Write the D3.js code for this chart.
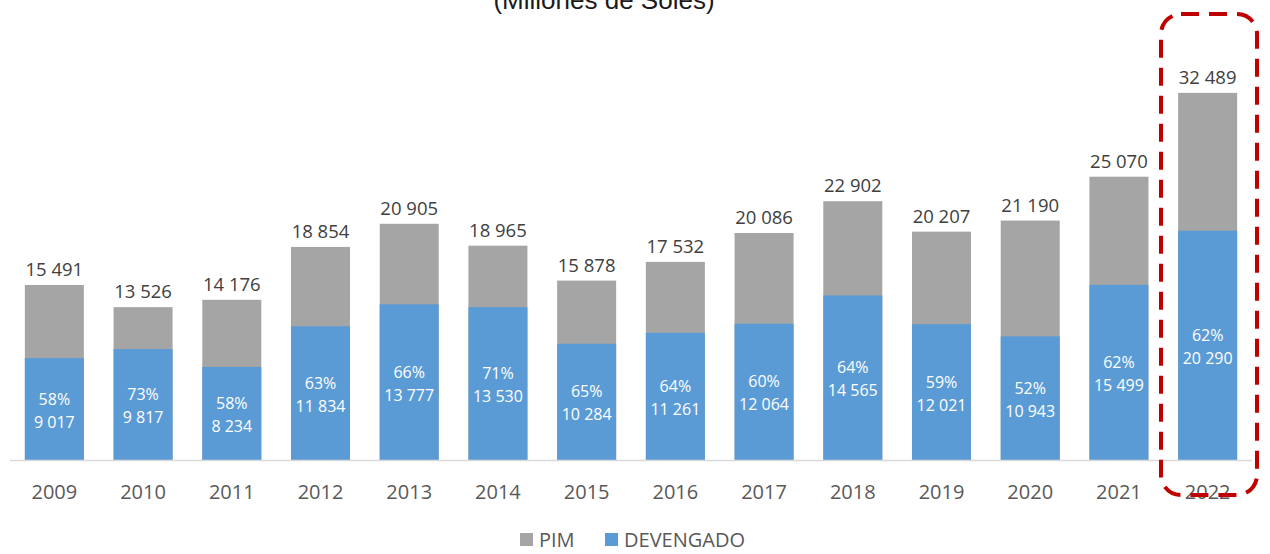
<!DOCTYPE html>
<html>
<head>
<meta charset="utf-8">
<script src="https://cdn.jsdelivr.net/npm/d3@7"></script>
<style>
  body { margin: 0; background: #fff; }
  svg { display: block; font-family: "Open Sans", "Noto Sans", sans-serif; }
</style>
</head>
<body>
<svg width="1270" height="554"></svg>
<script>
// Data (millones de soles)
const data = [
  { year: "2009", pim: 15491, dev: 9017 },
  { year: "2010", pim: 13526, dev: 9817 },
  { year: "2011", pim: 14176, dev: 8234 },
  { year: "2012", pim: 18854, dev: 11834 },
  { year: "2013", pim: 20905, dev: 13777 },
  { year: "2014", pim: 18965, dev: 13530 },
  { year: "2015", pim: 15878, dev: 10284 },
  { year: "2016", pim: 17532, dev: 11261 },
  { year: "2017", pim: 20086, dev: 12064 },
  { year: "2018", pim: 22902, dev: 14565 },
  { year: "2019", pim: 20207, dev: 12021 },
  { year: "2020", pim: 21190, dev: 10943 },
  { year: "2021", pim: 25070, dev: 15499 },
  { year: "2022", pim: 32489, dev: 20290 }
];

const svg = d3.select("svg");
const fmt = d3.formatLocale({ decimal: ",", thousands: " ", grouping: [3], currency: ["", ""] }).format(",d");

// scales
const x = d3.scaleBand()
  .domain(data.map((d) => d.year))
  .range([10, 1252])
  .paddingInner(0.335)
  .paddingOuter(0.1675);

const y = d3.scaleLinear().domain([0, 40000]).range([460, 8]);

// title (cut at top, as in the source)
svg.append("text")
  .attr("x", 604)
  .attr("y", 9)
  .attr("text-anchor", "middle")
  .style("font-family", "'Liberation Sans', Arial, sans-serif")
  .style("font-size", "26px")
  .attr("fill", "#1a1a1a")
  .text("(Millones de Soles)");

// PIM bars
svg.append("g")
  .selectAll("rect")
  .data(data)
  .enter()
  .append("rect")
  .attr("x", (d) => x(d.year))
  .attr("width", x.bandwidth())
  .attr("y", (d) => y(d.pim))
  .attr("height", (d) => y(0) - y(d.pim))
  .attr("fill", "#a5a5a5");

// DEVENGADO bars
svg.append("g")
  .selectAll("rect")
  .data(data)
  .enter()
  .append("rect")
  .attr("x", (d) => x(d.year))
  .attr("width", x.bandwidth())
  .attr("y", (d) => y(d.dev))
  .attr("height", (d) => y(0) - y(d.dev))
  .attr("fill", "#5b9bd5");

// axis line
svg.append("line")
  .attr("x1", x.range()[0])
  .attr("x2", x.range()[1])
  .attr("y1", y(0) + 0.5)
  .attr("y2", y(0) + 0.5)
  .attr("stroke", "#d9d9d9")
  .attr("stroke-width", 1.5);

// PIM labels
svg.append("g")
  .selectAll("text")
  .data(data)
  .enter()
  .append("text")
  .attr("x", (d) => x(d.year) + x.bandwidth() / 2)
  .attr("y", (d) => y(d.pim) - 9)
  .attr("text-anchor", "middle")
  .style("font-size", "18.5px")
  .attr("fill", "#404040")
  .text((d) => fmt(d.pim));

// DEVENGADO labels (percent + value)
const inner = svg.append("g")
  .selectAll("text")
  .data(data)
  .enter()
  .append("text")
  .attr("text-anchor", "middle")
  .style("font-size", "16px")
  .attr("fill", "#ffffff");

inner.append("tspan")
  .attr("x", (d) => x(d.year) + x.bandwidth() / 2)
  .attr("y", (d) => (y(d.dev) + y(0)) / 2 - 4.5)
  .text((d) => Math.round((d.dev / d.pim) * 100) + "%");

inner.append("tspan")
  .attr("x", (d) => x(d.year) + x.bandwidth() / 2)
  .attr("y", (d) => (y(d.dev) + y(0)) / 2 + 18.5)
  .text((d) => fmt(d.dev));

// year labels
svg.append("g")
  .selectAll("text")
  .data(data)
  .enter()
  .append("text")
  .attr("x", (d) => x(d.year) + x.bandwidth() / 2)
  .attr("y", 499)
  .attr("text-anchor", "middle")
  .style("font-size", "20px")
  .attr("fill", "#595959")
  .text((d) => d.year);

// highlight box around 2022
svg.append("rect")
  .attr("x", 1161)
  .attr("y", 14)
  .attr("width", 96)
  .attr("height", 481)
  .attr("rx", 20)
  .attr("ry", 20)
  .attr("fill", "none")
  .attr("stroke", "#c00000")
  .attr("stroke-width", 4)
  .attr("stroke-dasharray", "18,10");

// legend
const legend = svg.append("g").attr("transform", "translate(520,533)");
const items = [
  { name: "PIM", color: "#a5a5a5", dx: 0 },
  { name: "DEVENGADO", color: "#5b9bd5", dx: 85 }
];
items.forEach((item) => {
  legend.append("rect")
    .attr("x", item.dx)
    .attr("y", 0)
    .attr("width", 13)
    .attr("height", 13)
    .attr("fill", item.color);
  legend.append("text")
    .attr("x", item.dx + 19)
    .attr("y", 14)
    .style("font-size", "20px")
    .attr("fill", "#595959")
    .text(item.name);
});
</script>
</body>
</html>
